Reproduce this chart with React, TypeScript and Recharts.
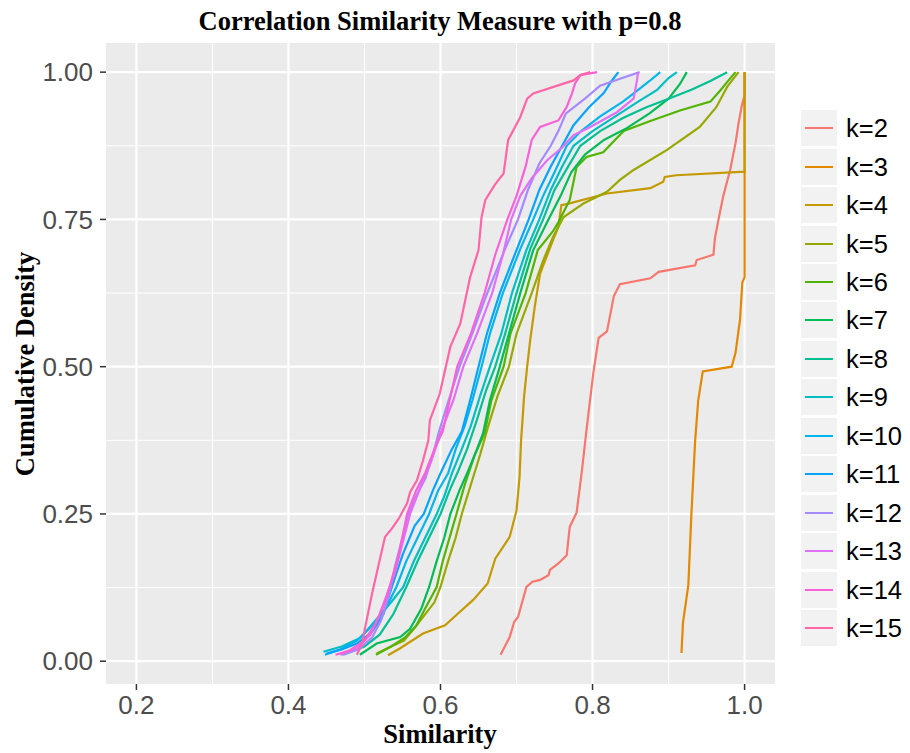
import React from 'react';
import { LineChart, Line, XAxis, YAxis, CartesianGrid } from 'recharts';

// series labels and ggplot hue colours
const seriesNames = ['k=2', 'k=3', 'k=4', 'k=5', 'k=6', 'k=7', 'k=8', 'k=9', 'k=10', 'k=11', 'k=12', 'k=13', 'k=14', 'k=15'];
const seriesColors = ['#F8766D', '#E38900', '#C49A00', '#99A800', '#53B400', '#00BC56', '#00C094', '#00BFC4', '#00B6EB', '#06A4FF', '#A58AFF', '#DF70F8', '#FB61D7', '#FF66A8'];

const xTicks = [0.2, 0.4, 0.6, 0.8, 1.0];
const yTicks = [0, 0.25, 0.5, 0.75, 1];
const xMinor = [0.3, 0.5, 0.7, 0.9];
const yMinor = [0.125, 0.375, 0.625, 0.875];

// [similarity, cumulative density]
const k2 = [[0.679, 0.011], [0.691, 0.041], [0.697, 0.067], [0.702, 0.075], [0.713, 0.126], [0.721, 0.135], [0.731, 0.138], [0.742, 0.146], [0.744, 0.155], [0.755, 0.166], [0.766, 0.18], [0.77, 0.228], [0.779, 0.252], [0.786, 0.323], [0.792, 0.392], [0.801, 0.489], [0.808, 0.549], [0.819, 0.56], [0.828, 0.62], [0.836, 0.64], [0.876, 0.65], [0.887, 0.661], [0.935, 0.672], [0.937, 0.681], [0.959, 0.69], [0.961, 0.718], [0.966, 0.752], [0.972, 0.79], [0.981, 0.834], [0.988, 0.879], [0.992, 0.913], [0.996, 0.941], [0.998, 0.952], [1.0, 0.96], [1.0, 1.0]];
const k3 = [[0.917, 0.014], [0.919, 0.066], [0.926, 0.129], [0.93, 0.249], [0.935, 0.375], [0.939, 0.443], [0.945, 0.492], [0.983, 0.5], [0.988, 0.523], [0.994, 0.58], [0.997, 0.643], [1.0, 0.652], [1.0, 1.0]];
const k4 = [[0.531, 0.01], [0.547, 0.022], [0.577, 0.047], [0.606, 0.061], [0.623, 0.081], [0.643, 0.104], [0.662, 0.132], [0.672, 0.174], [0.691, 0.211], [0.7, 0.256], [0.704, 0.313], [0.706, 0.375], [0.71, 0.45], [0.714, 0.5], [0.718, 0.545], [0.724, 0.602], [0.731, 0.658], [0.748, 0.715], [0.755, 0.737], [0.759, 0.774], [0.766, 0.776], [0.819, 0.794], [0.876, 0.803], [0.893, 0.814], [0.895, 0.822], [0.91, 0.825], [1.0, 0.831], [1.0, 1.0]];
const k5 = [[0.516, 0.013], [0.535, 0.025], [0.552, 0.035], [0.565, 0.055], [0.58, 0.08], [0.592, 0.1], [0.6, 0.126], [0.61, 0.17], [0.62, 0.21], [0.628, 0.25], [0.64, 0.3], [0.652, 0.35], [0.663, 0.4], [0.675, 0.45], [0.69, 0.5], [0.7, 0.556], [0.72, 0.625], [0.735, 0.68], [0.748, 0.72], [0.762, 0.754], [0.788, 0.777], [0.819, 0.797], [0.836, 0.817], [0.854, 0.834], [0.898, 0.868], [0.941, 0.907], [0.963, 0.941], [0.977, 0.975], [0.992, 1.0]];
const k6 = [[0.515, 0.011], [0.535, 0.025], [0.553, 0.04], [0.568, 0.06], [0.58, 0.09], [0.595, 0.126], [0.603, 0.17], [0.612, 0.21], [0.621, 0.25], [0.632, 0.3], [0.645, 0.35], [0.658, 0.387], [0.667, 0.443], [0.683, 0.5], [0.692, 0.556], [0.712, 0.625], [0.728, 0.698], [0.748, 0.73], [0.755, 0.745], [0.77, 0.783], [0.779, 0.839], [0.792, 0.856], [0.814, 0.864], [0.841, 0.9], [0.876, 0.917], [0.915, 0.935], [0.955, 0.95], [0.968, 0.969], [0.977, 0.983], [0.988, 1.0]];
const k7 = [[0.494, 0.011], [0.516, 0.03], [0.547, 0.041], [0.56, 0.055], [0.575, 0.09], [0.585, 0.126], [0.595, 0.17], [0.605, 0.21], [0.613, 0.25], [0.625, 0.29], [0.635, 0.319], [0.648, 0.36], [0.656, 0.387], [0.665, 0.443], [0.678, 0.5], [0.69, 0.556], [0.705, 0.625], [0.722, 0.698], [0.742, 0.75], [0.758, 0.79], [0.772, 0.83], [0.79, 0.86], [0.815, 0.885], [0.845, 0.905], [0.875, 0.93], [0.9, 0.955], [0.915, 0.98], [0.924, 1.0]];
const k8 = [[0.472, 0.011], [0.5, 0.025], [0.52, 0.045], [0.538, 0.08], [0.555, 0.126], [0.57, 0.17], [0.585, 0.21], [0.6, 0.25], [0.612, 0.29], [0.622, 0.319], [0.635, 0.36], [0.648, 0.41], [0.66, 0.46], [0.672, 0.5], [0.685, 0.556], [0.7, 0.625], [0.718, 0.7], [0.735, 0.75], [0.75, 0.8], [0.768, 0.84], [0.784, 0.875], [0.81, 0.9], [0.84, 0.922], [0.87, 0.94], [0.9, 0.955], [0.93, 0.97], [0.955, 0.985], [0.977, 1.0]];
const k9 = [[0.446, 0.016], [0.47, 0.025], [0.495, 0.04], [0.515, 0.07], [0.535, 0.1], [0.551, 0.126], [0.565, 0.17], [0.58, 0.21], [0.595, 0.25], [0.605, 0.28], [0.615, 0.319], [0.628, 0.36], [0.64, 0.4], [0.652, 0.45], [0.665, 0.5], [0.68, 0.556], [0.694, 0.625], [0.713, 0.698], [0.73, 0.75], [0.745, 0.8], [0.76, 0.84], [0.775, 0.875], [0.8, 0.9], [0.83, 0.925], [0.86, 0.95], [0.885, 0.97], [0.9, 0.99], [0.911, 1.0]];
const k10 = [[0.448, 0.011], [0.468, 0.02], [0.49, 0.035], [0.51, 0.06], [0.528, 0.09], [0.542, 0.126], [0.555, 0.17], [0.57, 0.21], [0.585, 0.25], [0.597, 0.29], [0.61, 0.319], [0.62, 0.36], [0.632, 0.4], [0.642, 0.443], [0.654, 0.5], [0.665, 0.556], [0.682, 0.625], [0.705, 0.7], [0.722, 0.75], [0.735, 0.79], [0.75, 0.83], [0.766, 0.875], [0.785, 0.9], [0.81, 0.925], [0.84, 0.95], [0.86, 0.97], [0.875, 0.985], [0.889, 1.0]];
const k11 = [[0.45, 0.013], [0.47, 0.02], [0.49, 0.03], [0.51, 0.05], [0.525, 0.08], [0.536, 0.126], [0.55, 0.18], [0.566, 0.23], [0.578, 0.25], [0.59, 0.29], [0.6, 0.319], [0.615, 0.36], [0.628, 0.39], [0.639, 0.443], [0.65, 0.5], [0.661, 0.556], [0.678, 0.625], [0.7, 0.698], [0.716, 0.75], [0.73, 0.8], [0.745, 0.84], [0.76, 0.875], [0.775, 0.91], [0.795, 0.94], [0.815, 0.965], [0.825, 0.985], [0.834, 1.0]];
const k12 = [[0.47, 0.011], [0.492, 0.02], [0.51, 0.04], [0.522, 0.07], [0.532, 0.11], [0.54, 0.16], [0.548, 0.2], [0.558, 0.25], [0.568, 0.28], [0.58, 0.31], [0.59, 0.35], [0.598, 0.39], [0.61, 0.44], [0.625, 0.5], [0.64, 0.55], [0.66, 0.62], [0.685, 0.7], [0.702, 0.75], [0.715, 0.8], [0.73, 0.845], [0.745, 0.875], [0.755, 0.9], [0.765, 0.93], [0.79, 0.955], [0.81, 0.977], [0.841, 0.991], [0.862, 1.0]];
const k13 = [[0.468, 0.011], [0.49, 0.022], [0.508, 0.045], [0.52, 0.08], [0.53, 0.115], [0.54, 0.15], [0.55, 0.2], [0.56, 0.25], [0.575, 0.3], [0.588, 0.34], [0.6, 0.387], [0.617, 0.443], [0.63, 0.5], [0.648, 0.556], [0.668, 0.625], [0.682, 0.69], [0.693, 0.75], [0.705, 0.79], [0.72, 0.82], [0.74, 0.85], [0.76, 0.872], [0.775, 0.893], [0.797, 0.907], [0.832, 0.932], [0.854, 0.955], [0.858, 0.983], [0.86, 1.0]];
const k14 = [[0.462, 0.011], [0.48, 0.018], [0.5, 0.035], [0.515, 0.065], [0.527, 0.1], [0.533, 0.126], [0.545, 0.18], [0.556, 0.25], [0.568, 0.29], [0.58, 0.32], [0.592, 0.36], [0.603, 0.39], [0.612, 0.443], [0.622, 0.5], [0.64, 0.556], [0.658, 0.625], [0.672, 0.69], [0.688, 0.75], [0.7, 0.79], [0.712, 0.84], [0.72, 0.885], [0.731, 0.907], [0.755, 0.918], [0.766, 0.941], [0.773, 0.964], [0.777, 0.981], [0.784, 0.995], [0.806, 1.0]];
const k15 = [[0.49, 0.011], [0.497, 0.03], [0.501, 0.058], [0.51, 0.115], [0.516, 0.149], [0.527, 0.211], [0.536, 0.225], [0.545, 0.242], [0.556, 0.268], [0.56, 0.287], [0.569, 0.307], [0.577, 0.341], [0.584, 0.375], [0.586, 0.409], [0.599, 0.454], [0.613, 0.534], [0.626, 0.573], [0.639, 0.652], [0.65, 0.698], [0.654, 0.754], [0.659, 0.783], [0.672, 0.81], [0.683, 0.828], [0.689, 0.885], [0.705, 0.924], [0.714, 0.955], [0.722, 0.964], [0.775, 0.986], [0.784, 0.995], [0.797, 1.0]];

const allPoints = [k2, k3, k4, k5, k6, k7, k8, k9, k10, k11, k12, k13, k14, k15];

const series = allPoints.map((pts, i) => ({
  name: seriesNames[i],
  color: seriesColors[i],
  data: pts.map(([x, y]) => ({ x, y })),
}));

const sans = '"Liberation Sans", Arial, sans-serif';
const serif = '"Liberation Serif", "Times New Roman", serif';

const ChartLegend: React.FC = () => (
  <div style={{ position: 'absolute', left: 801, top: 109, fontFamily: sans }}>
    {series.map((s) => (
      <div key={s.name} style={{ display: 'flex', alignItems: 'center', height: 38.46 }}>
        <div style={{ width: 36, height: 36, background: '#F2F2F2', position: 'relative' }}>
          <div style={{ position: 'absolute', left: 4, right: 4, top: 17, height: 2, background: s.color }} />
        </div>
        <span style={{ marginLeft: 9, fontSize: 25.5, color: '#000', lineHeight: '36px' }}>{s.name}</span>
      </div>
    ))}
  </div>
);

const App: React.FC = () => {
  return (
    <div style={{ position: 'absolute', left: 0, top: 0, width: 910, height: 753, background: '#fff' }}>
      <LineChart width={910} height={753} margin={{ top: 43, right: 135, bottom: 0, left: 0 }}>
        <CartesianGrid fill="#EBEBEB" fillOpacity={1} stroke="#FFFFFF" strokeWidth={1} verticalValues={xMinor} horizontalValues={yMinor} />
        <CartesianGrid fill="none" stroke="#FFFFFF" strokeWidth={2.2} verticalValues={xTicks} horizontalValues={yTicks} />
        <XAxis
          type="number"
          dataKey="x"
          domain={[0.16, 1.04]}
          allowDataOverflow
          ticks={xTicks}
          tickFormatter={(v: number) => v.toFixed(1)}
          height={69}
          axisLine={false}
          tickSize={6}
          tickMargin={6}
          tickLine={{ stroke: '#333333', strokeWidth: 1.5 }}
          tick={{ fill: '#4D4D4D', fontSize: 26, fontFamily: sans }}
        />
        <YAxis
          type="number"
          dataKey="y"
          domain={[-0.0387, 1.0495]}
          allowDataOverflow
          ticks={yTicks}
          tickFormatter={(v: number) => v.toFixed(2)}
          width={106}
          axisLine={false}
          tickSize={6}
          tickMargin={7}
          tickLine={{ stroke: '#333333', strokeWidth: 1.5 }}
          tick={{ fill: '#4D4D4D', fontSize: 26, fontFamily: sans }}
        />
        {series.map((s) => (
          <Line
            key={s.name}
            data={s.data}
            dataKey="y"
            name={s.name}
            type="linear"
            stroke={s.color}
            strokeWidth={2.2}
            dot={false}
            isAnimationActive={false}
          />
        ))}
      </LineChart>
      <ChartLegend />
      <svg width={910} height={753} style={{ position: 'absolute', left: 0, top: 0, pointerEvents: 'none' }}>
        <text x={440} y={30} textAnchor="middle" fontFamily={serif} fontWeight="bold" fontSize={26.5} fill="#000">
          Correlation Similarity Measure with p=0.8
        </text>
        <text x={440} y={743} textAnchor="middle" fontFamily={serif} fontWeight="bold" fontSize={26.5} fill="#000">
          Similarity
        </text>
        <text x={34} y={364} textAnchor="middle" transform="rotate(-90 34 364)" fontFamily={serif} fontWeight="bold" fontSize={26.5} fill="#000">
          Cumulative Density
        </text>
      </svg>
    </div>
  );
};

export default App;
